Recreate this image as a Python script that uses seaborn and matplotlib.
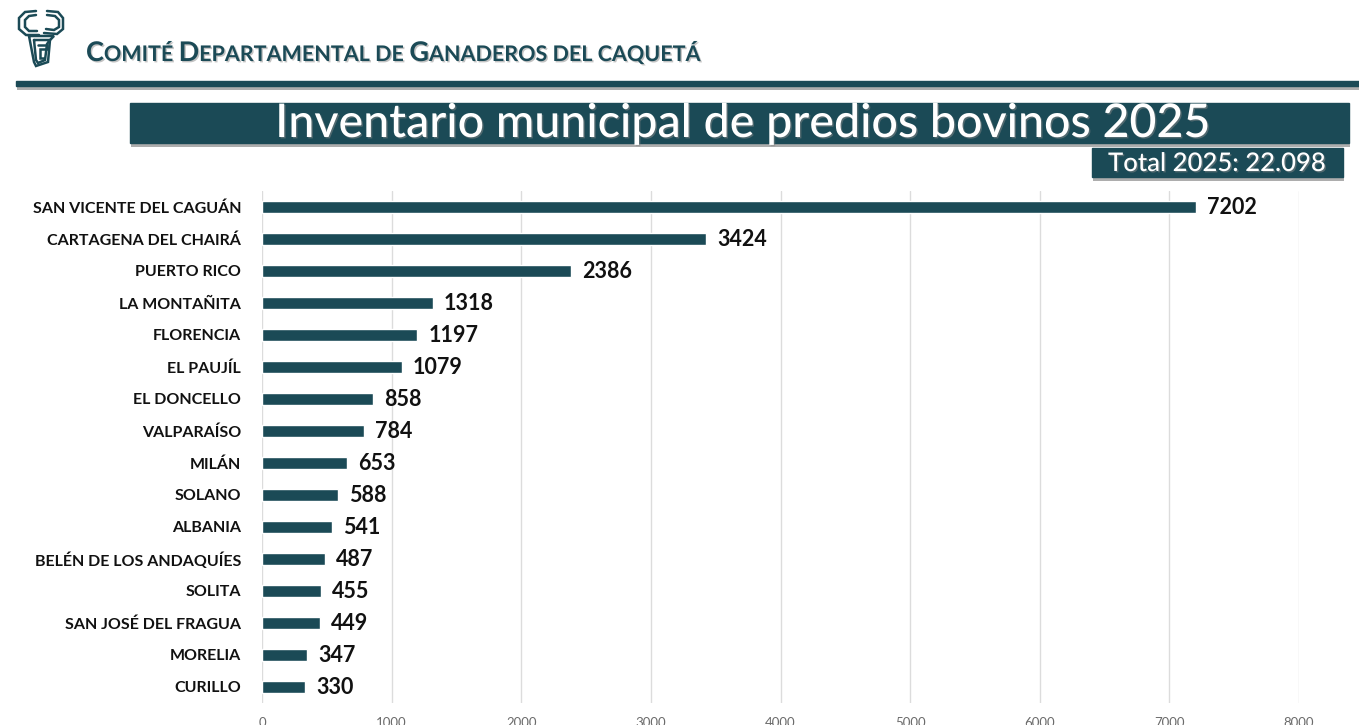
import matplotlib
matplotlib.use("Agg")
import matplotlib.pyplot as plt
import matplotlib.patheffects as pe
import pandas as pd
import seaborn as sns

municipios = ["SAN VICENTE DEL CAGUÁN", "CARTAGENA DEL CHAIRÁ", "PUERTO RICO", "LA MONTAÑITA",
              "FLORENCIA", "EL PAUJÍL", "EL DONCELLO", "VALPARAÍSO", "MILÁN", "SOLANO", "ALBANIA",
              "BELÉN DE LOS ANDAQUÍES", "SOLITA", "SAN JOSÉ DEL FRAGUA", "MORELIA", "CURILLO"]
predios = [7202, 3424, 2386, 1318, 1197, 1079, 858, 784, 653, 588, 541, 487, 455, 449, 347, 330]
x_ticks = [0, 1000, 2000, 3000, 4000, 5000, 6000, 7000, 8000]

TEAL = "#1b4a56"

sns.set_theme(style="white")
plt.rcParams['font.family'] = ['Lato', 'DejaVu Sans']

df = pd.DataFrame({"municipio": municipios, "predios": predios})

fig = plt.figure(figsize=(13.59, 7.25), dpi=100)
ax = fig.add_axes([262 / 1359, 1 - 703 / 725, 1037 / 1359, 512 / 725])

sns.barplot(data=df, x="predios", y="municipio", color=TEAL, saturation=1, width=0.36, ax=ax, zorder=3)
ax.set_xlim(0, 8000)
ax.set_ylim(15.5, -0.5)
ax.set_xlabel("")
ax.set_ylabel("")
ax.set_xticks(x_ticks)
ax.set_xticklabels([str(t) for t in x_ticks], fontsize=9.5, color="#6b6b6b")
ax.grid(axis="x", color="#dcdcdc", lw=1)
ax.set_axisbelow(True)
ax.tick_params(axis="x", length=0, pad=10)
ax.tick_params(axis="y", length=0, pad=15)
for lab in ax.get_yticklabels():
    lab.set_fontsize(11.5)
    lab.set_fontweight("bold")
    lab.set_color("#111111")
sns.despine(ax=ax, left=True, bottom=True, top=True, right=True)

ax.bar_label(ax.containers[0], fontsize=15.5, fontweight="bold", color="#111111", padding=8)

# header drawn in pixel coordinates on a full-figure overlay
over = fig.add_axes([0, 0, 1, 1], zorder=5)
over.set_xlim(0, 1359)
over.set_ylim(725, 0)
over.axis("off")

shadow = [pe.SimplePatchShadow(offset=(1, -3), shadow_rgbFace="#777777", alpha=0.6), pe.Normal()]
text_shadow = [pe.withSimplePatchShadow(offset=(1, -1), shadow_rgbFace="#888888", alpha=0.5)]

over.add_patch(plt.Rectangle((16, 81), 1343, 5, color=TEAL, path_effects=shadow))
over.add_patch(plt.Rectangle((130, 103), 1219, 40, color=TEAL, path_effects=shadow))
over.add_patch(plt.Rectangle((1092, 148), 251, 29, color=TEAL, path_effects=shadow))

over.text(742, 124, "Inventario municipal de predios bovinos 2025", color="white", fontsize=33.5,
          fontweight="medium", ha="center", va="center", path_effects=text_shadow)
over.text(1217, 163.5, "Total 2025: 22.098", color="white", fontsize=18.5, fontweight="medium",
          ha="center", va="center", path_effects=text_shadow)

# small caps company name, piece by piece
pieces = [("C", 19.5), ("OMITÉ ", 15.5), ("D", 19.5), ("EPARTAMENTAL DE ", 15.5), ("G", 19.5),
          ("ANADEROS DEL CAQUETÁ", 15.5)]
renderer = fig.canvas.get_renderer()
x_pos = 86
for txt, size in pieces:
    t = over.text(x_pos, 61, txt.replace(" ", "\u00a0"), color=TEAL, fontsize=size, fontweight="bold",
                  ha="left", va="baseline", path_effects=text_shadow)
    x_pos = t.get_window_extent(renderer).x1

# logo
logo_lines = [
    ([36, 25, 19, 19, 26, 39], [11, 12, 18, 29, 35, 35]),
    ([47, 58, 63, 63, 57, 44], [11, 12, 18, 29, 34, 33]),
    ([36, 29, 25, 25, 29, 37], [15, 16, 20, 27, 31, 31]),
    ([47, 55, 59, 59, 54, 46], [15, 16, 20, 27, 30, 29]),
    ([29, 54, 50, 48, 36, 34, 29], [36, 36, 40, 62, 66, 62, 36]),
    ([34, 50, 47, 45, 38, 36, 34], [40, 40, 44, 60, 63, 60, 40]),
    ([38, 47, 47, 40, 40, 44], [45, 45, 49, 49, 58, 58]),
]
for xs, ys in logo_lines:
    over.plot(xs, ys, color=TEAL, lw=1.8, solid_joinstyle="miter")
over.set_xlim(0, 1359)
over.set_ylim(725, 0)

fig.savefig("out.png", dpi=100, facecolor="white")
